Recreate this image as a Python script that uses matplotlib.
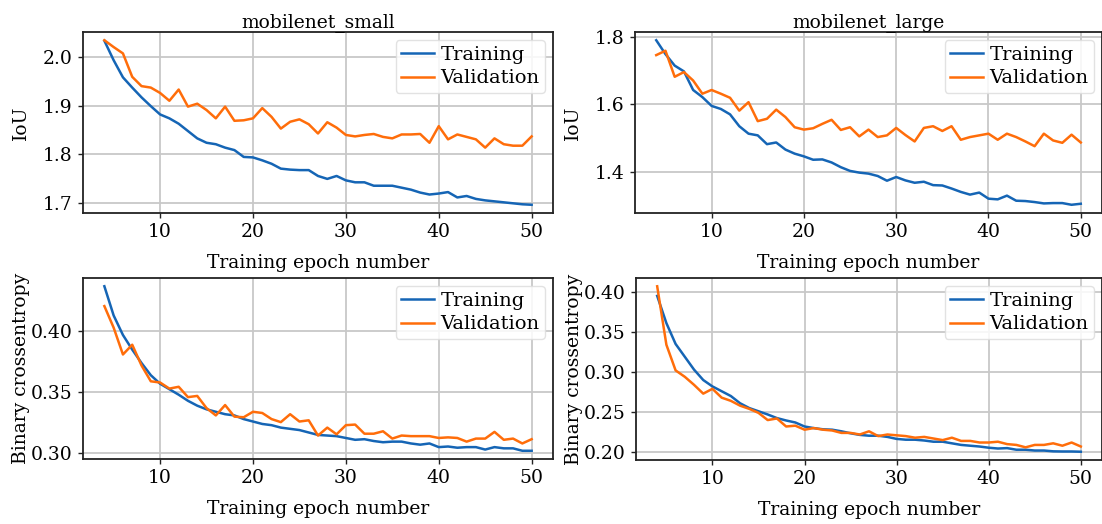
import matplotlib
matplotlib.use("Agg")
import matplotlib.pyplot as plt

plt.rcParams['font.family'] = ['DejaVu Serif']
plt.rcParams['font.size'] = 13.5

epochs = list(range(4, 51))

small_iou_train = [2.033, 1.993, 1.958, 1.937, 1.917, 1.899, 1.882, 1.874, 1.863, 1.848,
                   1.833, 1.824, 1.821, 1.814, 1.809, 1.795, 1.794, 1.788, 1.781, 1.771,
                   1.769, 1.768, 1.768, 1.756, 1.750, 1.756, 1.747, 1.743, 1.743, 1.736,
                   1.736, 1.736, 1.732, 1.728, 1.722, 1.718, 1.720, 1.723, 1.712, 1.715,
                   1.709, 1.706, 1.704, 1.702, 1.700, 1.698, 1.697]
small_iou_val = [2.034, 2.020, 2.007, 1.959, 1.940, 1.937, 1.926, 1.910, 1.933, 1.898,
                 1.904, 1.891, 1.874, 1.898, 1.869, 1.870, 1.874, 1.895, 1.877, 1.853,
                 1.867, 1.872, 1.862, 1.843, 1.866, 1.855, 1.840, 1.837, 1.840, 1.842,
                 1.836, 1.833, 1.841, 1.841, 1.842, 1.824, 1.858, 1.831, 1.841, 1.836,
                 1.831, 1.814, 1.833, 1.821, 1.818, 1.818, 1.837]

large_iou_train = [1.789, 1.748, 1.714, 1.697, 1.642, 1.621, 1.595, 1.586, 1.570, 1.535,
                   1.513, 1.508, 1.482, 1.487, 1.466, 1.454, 1.446, 1.436, 1.437, 1.428,
                   1.414, 1.403, 1.398, 1.395, 1.388, 1.374, 1.385, 1.375, 1.368, 1.371,
                   1.361, 1.360, 1.351, 1.341, 1.333, 1.339, 1.321, 1.319, 1.330, 1.315,
                   1.314, 1.311, 1.307, 1.308, 1.308, 1.303, 1.306]
large_iou_val = [1.745, 1.758, 1.681, 1.695, 1.670, 1.631, 1.642, 1.631, 1.619, 1.581,
                 1.606, 1.550, 1.557, 1.584, 1.562, 1.532, 1.525, 1.529, 1.542, 1.554,
                 1.524, 1.532, 1.505, 1.525, 1.503, 1.508, 1.530, 1.509, 1.490, 1.530,
                 1.535, 1.521, 1.535, 1.495, 1.503, 1.508, 1.513, 1.495, 1.513, 1.503,
                 1.490, 1.476, 1.513, 1.493, 1.486, 1.510, 1.487]

small_bce_train = [0.437, 0.413, 0.397, 0.385, 0.374, 0.364, 0.357, 0.3525, 0.348, 0.343,
                   0.339, 0.336, 0.334, 0.332, 0.331, 0.328, 0.326, 0.324, 0.323, 0.321,
                   0.320, 0.319, 0.317, 0.315, 0.3145, 0.314, 0.3125, 0.311, 0.3115, 0.310,
                   0.309, 0.3095, 0.3095, 0.308, 0.307, 0.308, 0.305, 0.3055, 0.3045, 0.305,
                   0.305, 0.303, 0.305, 0.304, 0.304, 0.302, 0.302]
small_bce_val = [0.4207, 0.403, 0.381, 0.389, 0.372, 0.359, 0.358, 0.353, 0.3545, 0.346,
                 0.347, 0.337, 0.331, 0.3395, 0.330, 0.3295, 0.334, 0.333, 0.328, 0.3255,
                 0.332, 0.326, 0.327, 0.3145, 0.321, 0.3155, 0.323, 0.3235, 0.316, 0.316,
                 0.318, 0.312, 0.3145, 0.314, 0.314, 0.314, 0.3125, 0.313, 0.3125, 0.3095,
                 0.312, 0.312, 0.3175, 0.311, 0.312, 0.308, 0.3115]

large_bce_train = [0.395, 0.361, 0.335, 0.319, 0.303, 0.290, 0.282, 0.276, 0.270, 0.261,
                   0.255, 0.251, 0.247, 0.2425, 0.2395, 0.237, 0.232, 0.230, 0.2285, 0.228,
                   0.226, 0.2235, 0.2215, 0.2205, 0.2205, 0.219, 0.2165, 0.2155, 0.2155, 0.2145,
                   0.213, 0.213, 0.211, 0.209, 0.208, 0.207, 0.2055, 0.2045, 0.205, 0.203,
                   0.203, 0.202, 0.202, 0.201, 0.2008, 0.2008, 0.2005]
large_bce_val = [0.407, 0.334, 0.302, 0.294, 0.284, 0.273, 0.279, 0.268, 0.264, 0.258,
                 0.254, 0.249, 0.240, 0.242, 0.232, 0.233, 0.228, 0.230, 0.228, 0.227,
                 0.224, 0.224, 0.222, 0.226, 0.220, 0.222, 0.221, 0.220, 0.218, 0.219,
                 0.217, 0.215, 0.218, 0.214, 0.214, 0.212, 0.212, 0.213, 0.210, 0.209,
                 0.206, 0.209, 0.209, 0.211, 0.208, 0.212, 0.207]

titles = ["mobilenet_small", "mobilenet_large"]
xlabel = "Training epoch number"
ylabels = ["IoU", "Binary crossentropy"]
xticks = [10, 20, 30, 40, 50]
yticks = [[1.7, 1.8, 1.9, 2.0], [1.4, 1.6, 1.8], [0.30, 0.35, 0.40], [0.20, 0.25, 0.30, 0.35, 0.40]]
yfmt = ["{:.1f}", "{:.1f}", "{:.2f}", "{:.2f}"]

BLUE = "#1565b5"
ORANGE = "#ff6d0a"
FS = 13.5
LFS = 14

W, H = 1102, 524
fig = plt.figure(figsize=(W / 100, H / 100), dpi=100)

boxes = [
    (83, 32, 470, 181),
    (635, 32, 467, 181),
    (83, 278, 470, 181),
    (636, 278, 466, 182),
]
series = [
    (small_iou_train, small_iou_val),
    (large_iou_train, large_iou_val),
    (small_bce_train, small_bce_val),
    (large_bce_train, large_bce_val),
]

for i, ((x0, y0, w, h), (tr, va)) in enumerate(zip(boxes, series)):
    ax = fig.add_axes([x0 / W, 1 - (y0 + h) / H, w / W, h / H])
    ax.plot(epochs, tr, color=BLUE, lw=1.8, label="Training")
    ax.plot(epochs, va, color=ORANGE, lw=1.8, label="Validation")
    ax.grid(True, color="#c8c8c8", lw=1.3)
    ax.set_axisbelow(True)
    for s in ax.spines.values():
        s.set_color("#222222")
        s.set_linewidth(1.3)
    ax.tick_params(direction="out", length=3.5, width=1.0, color="#222222", labelsize=FS, pad=4)
    ax.set_xticks(xticks)
    ax.set_yticks(yticks[i])
    ax.set_yticklabels([yfmt[i].format(v) for v in yticks[i]])
    ax.set_xlabel(xlabel, fontsize=FS, labelpad=9)
    ax.set_ylabel(ylabels[i // 2], fontsize=FS)
    ax.yaxis.set_label_coords(-53 / w, 0.5)
    if i < 2:
        ax.set_title(titles[i], fontsize=FS, pad=3)
    ax.legend(loc="upper right", fontsize=LFS, frameon=True, framealpha=0.85,
              edgecolor="#dddddd", borderpad=0.3, labelspacing=0.3,
              handlelength=1.7, handletextpad=0.3, borderaxespad=0.4)

fig.savefig("out.png", dpi=100)
